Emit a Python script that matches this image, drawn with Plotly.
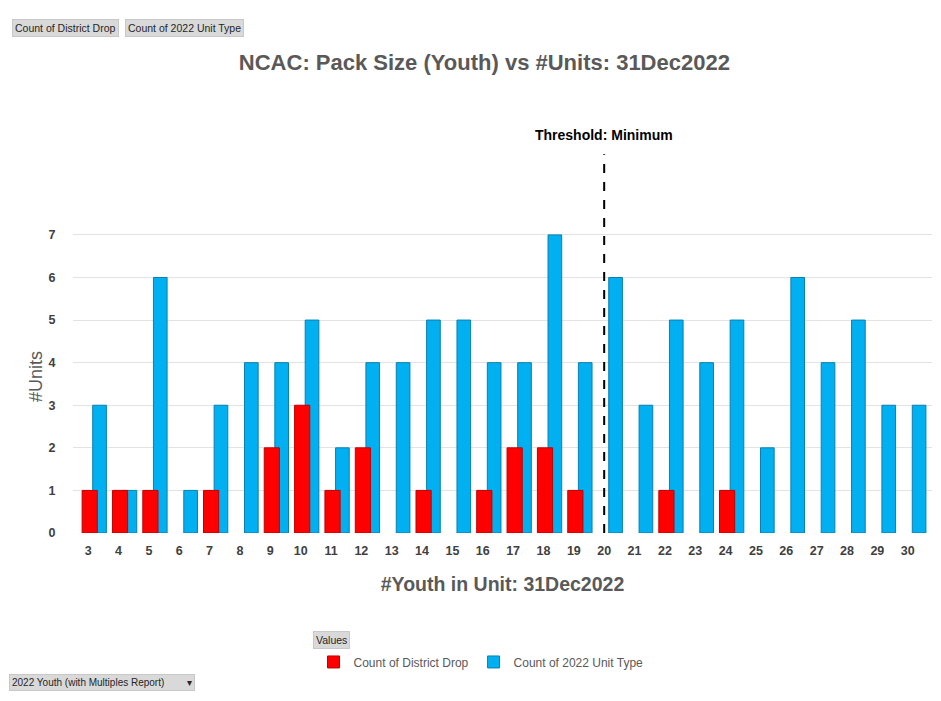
import plotly.graph_objects as go

# data
youth = [3, 4, 5, 6, 7, 8, 9, 10, 11, 12, 13, 14, 15, 16, 17, 18, 19, 20,
         21, 22, 23, 24, 25, 26, 27, 28, 29, 30]
unit_type = [3, 1, 6, 1, 3, 4, 4, 5, 2, 4, 4, 5, 5, 4, 4, 7, 4, 6,
             3, 5, 4, 5, 2, 6, 4, 5, 3, 3]
district_drop = [1, 1, 1, 0, 1, 0, 2, 3, 1, 2, 0, 1, 0, 1, 2, 2, 1, 0,
                 0, 1, 0, 1, 0, 0, 0, 0, 0, 0]
threshold = 20

drop_x = [x for x, v in zip(youth, district_drop) if v > 0]
drop_y = [v for v in district_drop if v > 0]

FONT = "Liberation Sans, Arial, sans-serif"
GRAY = "#595959"

fig = go.Figure()
fig.add_trace(go.Bar(
    name="Count of 2022 Unit Type", x=youth, y=unit_type,
    offset=0.15, width=0.45,
    marker=dict(color="#00b0f0", line=dict(color="#0a7fb0", width=1)),
))
fig.add_trace(go.Bar(
    name="Count of District Drop", x=drop_x, y=drop_y,
    offset=-0.2, width=0.5,
    marker=dict(color="#ff0000", line=dict(color="#c00000", width=1)),
))

# threshold line
fig.add_shape(type="line", x0=threshold, x1=threshold, xref="x",
              y0=0, y1=1.21, yref="paper",
              line=dict(color="black", width=2, dash="dash"))
fig.add_annotation(x=threshold, xref="x", y=1.27, yref="paper",
                   text="<b>Threshold: Minimum</b>", showarrow=False,
                   font=dict(family=FONT, size=14, color="black"),
                   xanchor="center", yanchor="middle")

# pivot chart buttons
btn = dict(showarrow=False, bgcolor="#d9d9d9", bordercolor="#c8c8c8",
           borderwidth=1, borderpad=2, xref="paper", yref="paper",
           font=dict(family=FONT, size=10.5, color="#262626"))
fig.add_annotation(text="Count of District Drop", x=-0.071, y=1.613,
                   xanchor="left", yanchor="middle", **btn)
fig.add_annotation(text="Count of 2022 Unit Type", x=0.06, y=1.613,
                   xanchor="left", yanchor="middle", **btn)
fig.add_annotation(text="Values", x=0.279, y=-0.342,
                   xanchor="left", yanchor="middle", **btn)
btn["font"] = dict(family=FONT, size=10, color="#262626")
fig.add_annotation(text="2022 Youth (with Multiples Report)        ▾", x=-0.075,
                   y=-0.505, xanchor="left", yanchor="bottom", **btn)

fig.update_layout(
    width=925, height=685,
    barmode="overlay",
    paper_bgcolor="white", plot_bgcolor="white",
    margin=dict(l=65, r=1, t=212, b=160),
    title=dict(text="<b>NCAC: Pack Size (Youth) vs #Units: 31Dec2022</b>",
               x=0.515, xanchor="center", y=0.921, yanchor="middle",
               font=dict(family=FONT, size=22, color=GRAY)),
    legend=dict(orientation="h", x=0.475, xanchor="center", y=-0.412,
                yanchor="middle", traceorder="reversed", itemwidth=30,
                font=dict(family=FONT, size=12, color=GRAY)),
    showlegend=True,
)
fig.update_xaxes(
    range=[2.5, 30.8], tickvals=youth, ticktext=[f"<b>{v}</b>" for v in youth],
    showgrid=False, zeroline=False, showline=False,
    ticks="outside", ticklen=6, tickcolor="rgba(0,0,0,0)",
    tickfont=dict(family=FONT, size=12.5, color="#404040"),
    title=dict(text="<b>#Youth in Unit: 31Dec2022</b>", standoff=20,
               font=dict(family=FONT, size=19.5, color=GRAY)),
)
fig.update_yaxes(
    range=[0, 7.35], dtick=1, showgrid=True, gridcolor="#e3e3e3",
    zeroline=False, showline=False,
    tickvals=list(range(8)), ticktext=[f"<b>{v}</b>" for v in range(8)],
    ticks="outside", ticklen=14, tickcolor="rgba(0,0,0,0)",
    tickfont=dict(family=FONT, size=12.5, color="#404040"),
    title=dict(text="#Units", standoff=1,
               font=dict(family=FONT, size=18, color=GRAY)),
)

fig.write_html("out.html")
